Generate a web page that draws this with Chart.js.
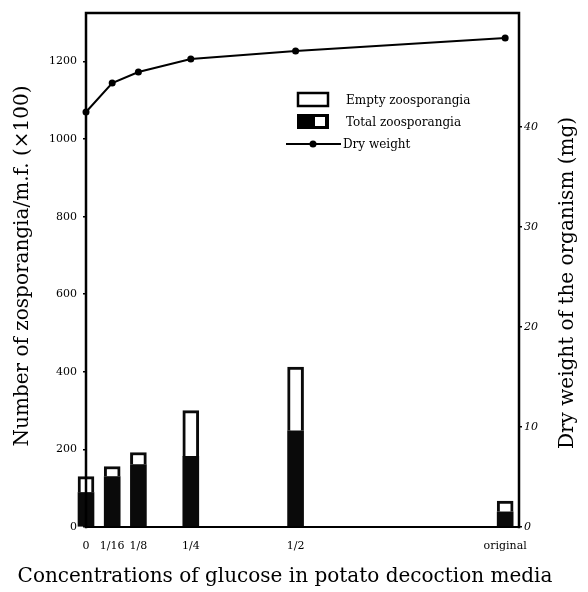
<!DOCTYPE html>
<html>
<head>
<meta charset="utf-8">
<script src="https://cdn.jsdelivr.net/npm/chart.js@4.4.1/dist/chart.umd.min.js"></script>
<style>
  html, body { margin: 0; padding: 0; background: #fff; }
  #wrap { width: 588px; height: 592px; }
</style>
</head>
<body>
<div id="wrap"><canvas id="chart" width="588" height="592"></canvas></div>
<script>
// glucose concentration of the medium (fraction of original)
const concentrations = [0, 1 / 16, 1 / 8, 1 / 4, 1 / 2, 1];
const concLabels = ["0", "1/16", "1/8", "1/4", "1/2", "original"];

// zoosporangia per m.f. (x100)
const totalZoo = [130, 156, 192, 300, 412, 67];
const emptyZoo = [41, 26, 31, 118, 164, 28];

// dry weight (mg)
const dryWeight = [41.5, 44.4, 45.5, 46.8, 47.6, 48.9];

const zooTicks = [0, 200, 400, 600, 800, 1000, 1200];
const weightTicks = [0, 10, 20, 30, 40];

const serif = "'DejaVu Serif', 'Liberation Serif', serif";

const fullZoo = totalZoo.map((t, i) => ({ x: concentrations[i], y: t - emptyZoo[i] }));
const emptyPart = emptyZoo.map((e, i) => ({ x: concentrations[i], y: e }));
const weightPoints = dryWeight.map((w, i) => ({ x: concentrations[i], y: w }));

const framePlugin = {
  id: "frameAndLegend",
  afterDraw(chart) {
    const { ctx, chartArea: a } = chart;
    ctx.save();
    ctx.strokeStyle = "#000";
    ctx.lineCap = "square";

    // plot frame
    ctx.lineWidth = 2.5;
    ctx.beginPath();
    ctx.moveTo(a.left, a.bottom);
    ctx.lineTo(a.left, a.top);
    ctx.lineTo(a.right, a.top);
    ctx.lineTo(a.right, a.bottom);
    ctx.stroke();
    ctx.lineWidth = 1.8;
    ctx.beginPath();
    ctx.moveTo(a.left, a.bottom);
    ctx.lineTo(a.right, a.bottom);
    ctx.stroke();

    // legend
    ctx.lineWidth = 2.5;
    ctx.fillStyle = "#fff";
    ctx.fillRect(298, 93, 30, 13);
    ctx.strokeRect(298, 93, 30, 13);
    ctx.fillStyle = "#000";
    ctx.fillRect(297, 114, 32, 15);
    ctx.fillStyle = "#fff";
    ctx.fillRect(315, 117, 10, 9);
    ctx.fillStyle = "#000";
    ctx.lineWidth = 2;
    ctx.beginPath();
    ctx.moveTo(287, 144);
    ctx.lineTo(340, 144);
    ctx.stroke();
    ctx.beginPath();
    ctx.arc(313, 144, 3.5, 0, Math.PI * 2);
    ctx.fill();

    ctx.font = "12px " + serif;
    ctx.textAlign = "left";
    ctx.textBaseline = "middle";
    ctx.fillText("Empty zoosporangia", 346, 101);
    ctx.fillText("Total zoosporangia", 346, 123);
    ctx.fillText("Dry weight", 343, 145);

    // axis titles
    ctx.font = "20px " + serif;
    ctx.textAlign = "center";
    ctx.fillText("Concentrations of glucose in potato decoction media", 285, 577);

    ctx.translate(23, 266);
    ctx.rotate(-Math.PI / 2);
    ctx.fillText("Number of zosporangia/m.f. (\u00d7100)", 0, 0);
    ctx.setTransform(1, 0, 0, 1, 0, 0);
    ctx.translate(568, 283);
    ctx.rotate(-Math.PI / 2);
    ctx.fillText("Dry weight of the organism (mg)", 0, 0);
    ctx.restore();
  },
};

new Chart(document.getElementById("chart"), {
  data: {
    datasets: [
      {
        type: "line",
        label: "Dry weight",
        data: weightPoints,
        yAxisID: "y2",
        borderColor: "#000",
        borderWidth: 2,
        pointRadius: 3.5,
        pointBackgroundColor: "#000",
        pointBorderWidth: 0,
        tension: 0,
        clip: false,
        order: 0,
      },
      {
        type: "bar",
        label: "Total zoosporangia",
        data: fullZoo,
        yAxisID: "y",
        stack: "zoo",
        backgroundColor: "#0a0a0a",
        borderWidth: 0,
        barThickness: 16,
        clip: false,
        order: 1,
      },
      {
        type: "bar",
        label: "Empty zoosporangia",
        data: emptyPart,
        yAxisID: "y",
        stack: "zoo",
        backgroundColor: "#fff",
        borderColor: "#0a0a0a",
        borderWidth: { top: 3, left: 3, right: 3, bottom: 0 },
        borderSkipped: false,
        barThickness: 16,
        clip: false,
        order: 2,
      },
    ],
  },
  options: {
    responsive: false,
    devicePixelRatio: 1,
    animation: false,
    layout: { padding: { top: 13, left: 0, right: 0, bottom: 0 } },
    plugins: {
      legend: { display: false },
      tooltip: { enabled: false },
    },
    scales: {
      x: {
        type: "linear",
        offset: false,
        min: 0,
        max: 1.033,
        afterFit(scale) {
          scale.height = 65;
        },
        afterBuildTicks(scale) {
          scale.ticks = concentrations.map((v) => ({ value: v }));
        },
        ticks: {
          autoSkip: false,
          maxRotation: 0,
          padding: 13,
          color: "#000",
          font: { family: serif, size: 11 },
          callback: (value, index) => concLabels[index],
        },
        grid: { display: false, drawTicks: false },
        border: { display: false },
      },
      y: {
        position: "left",
        stacked: true,
        min: 0,
        max: 1325,
        afterFit(scale) {
          scale.width = 86;
        },
        afterBuildTicks(scale) {
          scale.ticks = zooTicks.map((v) => ({ value: v }));
        },
        ticks: {
          padding: 6,
          color: "#000",
          font: { family: serif, size: 11 },
          callback: (value) => String(value),
        },
        grid: { drawOnChartArea: false, tickLength: 3, color: "#000", lineWidth: 1.5 },
        border: { display: false },
      },
      y2: {
        position: "right",
        min: 0,
        max: 51.4,
        afterFit(scale) {
          scale.width = 588 - 519;
        },
        afterBuildTicks(scale) {
          scale.ticks = weightTicks.map((v) => ({ value: v }));
        },
        ticks: {
          padding: 2,
          color: "#000",
          font: { family: serif, size: 11, style: "italic" },
          callback: (value) => String(value),
        },
        grid: { drawOnChartArea: false, tickLength: 3, color: "#000", lineWidth: 1.5 },
        border: { display: false },
      },
    },
  },
  plugins: [framePlugin],
});
</script>
</body>
</html>
